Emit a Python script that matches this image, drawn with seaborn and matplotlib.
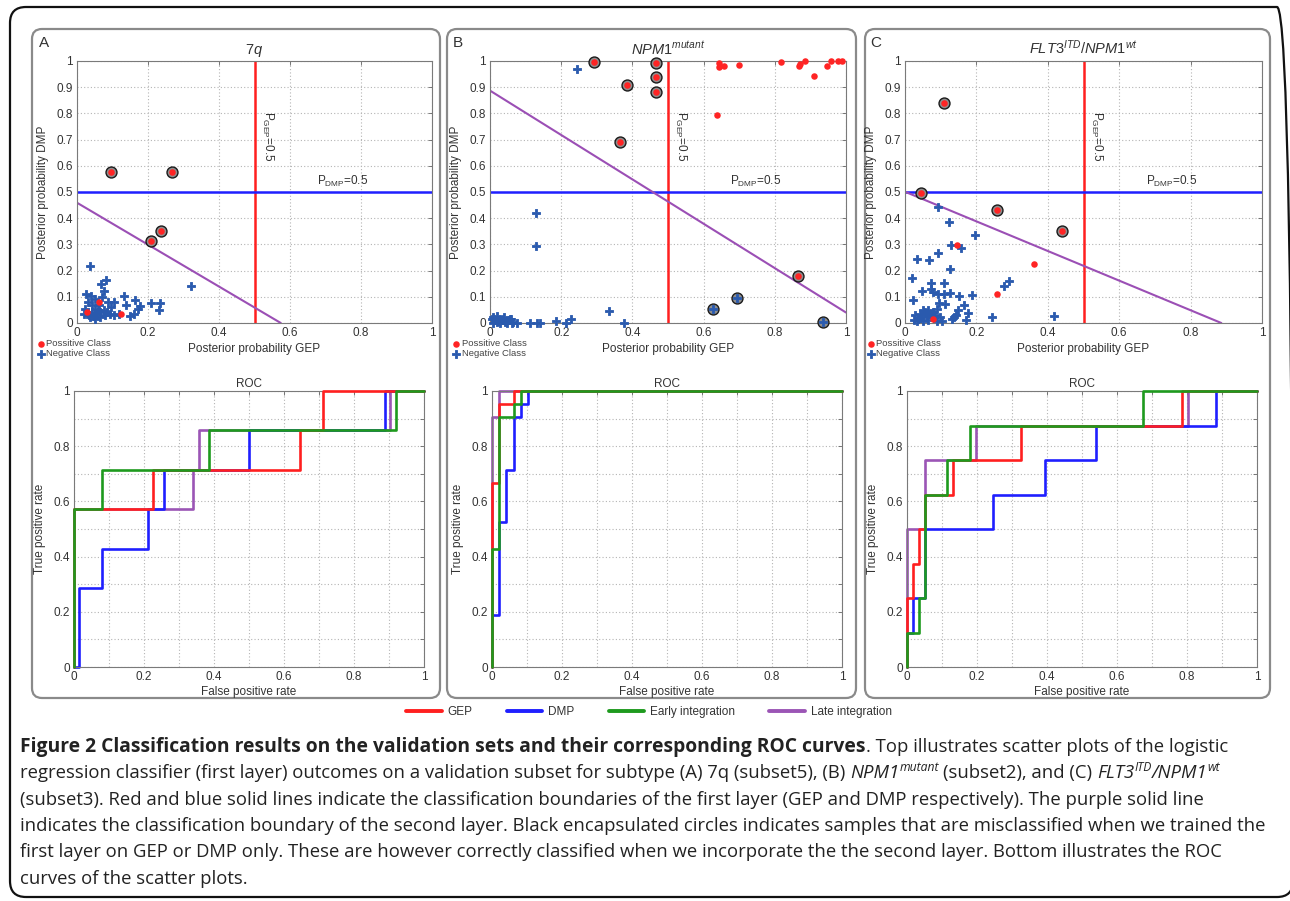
import numpy as np
import pandas as pd
import matplotlib
matplotlib.use("Agg")
import matplotlib.pyplot as plt
import seaborn as sns
from matplotlib.patches import FancyBboxPatch
from matplotlib.ticker import MultipleLocator, FuncFormatter

# ==================== data ====================
# panel A : 7q  (posterior probability GEP = x, DMP = y)
A_pos_x = [0.097, 0.269, 0.209, 0.237, 0.028, 0.063, 0.125]
A_pos_y = [0.577, 0.577, 0.313, 0.350, 0.042, 0.080, 0.036]
A_pos_ring = [0, 1, 2, 3]
A_neg_x = [0.037, 0.082, 0.068, 0.321, 0.026, 0.039, 0.075, 0.131, 0.105, 0.164,
           0.139, 0.209, 0.234, 0.232, 0.172, 0.160, 0.150, 0.178,
           0.019, 0.033, 0.047, 0.056, 0.066, 0.052, 0.042, 0.061, 0.075, 0.084, 0.094, 0.103,
           0.023, 0.030, 0.050, 0.070, 0.086, 0.096,
           0.036, 0.052, 0.066, 0.080, 0.042, 0.058, 0.117]
A_neg_y = [0.218, 0.163, 0.148, 0.140, 0.112, 0.102, 0.122, 0.103, 0.080, 0.089,
           0.068, 0.078, 0.078, 0.051, 0.055, 0.036, 0.025, 0.064,
           0.036, 0.029, 0.025, 0.036, 0.042, 0.055, 0.068, 0.068, 0.048, 0.042, 0.036, 0.029,
           0.055, 0.080, 0.093, 0.099, 0.080, 0.061,
           0.023, 0.017, 0.023, 0.029, 0.042, 0.051, 0.033]
A_neg_ring = []
A_bound_x = [0.0, 0.574]
A_bound_y = [0.459, 0.0]

# panel B : NPM1 mutant
B_pos_x = [0.292, 0.384, 0.467, 0.467, 0.465, 0.366, 0.865, 0.639, 0.644, 0.644, 0.657,
           0.700, 0.818, 0.869, 0.871, 0.885, 0.909, 0.947, 0.958, 0.978, 0.988]
B_pos_y = [0.995, 0.908, 0.991, 0.940, 0.883, 0.692, 0.178, 0.793, 0.993, 0.978, 0.982,
           0.985, 0.996, 0.981, 0.989, 1.000, 0.943, 0.982, 1.000, 1.000, 1.000]
B_pos_ring = [0, 1, 2, 3, 4, 5, 6]
B_neg_x = [0.626, 0.693, 0.935, 0.245, 0.128, 0.128, 0.333, 0.377, 0.227, 0.213,
           0.186, 0.111, 0.133, 0.141, 0.075,
           0.005, 0.009, 0.014, 0.019, 0.023, 0.028, 0.033, 0.037, 0.042, 0.047, 0.052, 0.056, 0.061, 0.066,
           0.009, 0.019, 0.039, 0.058]
B_neg_y = [0.052, 0.096, 0.004, 0.969, 0.420, 0.294, 0.046, 0.000, 0.017, 0.000,
           0.008, 0.000, 0.000, 0.000, 0.000,
           0.017, 0.023, 0.010, 0.004, 0.008, 0.000, 0.010, 0.017, 0.004, 0.000, 0.010, 0.017, 0.000, 0.004,
           0.000, 0.025, 0.023, 0.014]
B_neg_ring = [0, 1, 2]
B_bound_x = [0.0, 1.0]
B_bound_y = [0.887, 0.040]

# panel C : FLT3 ITD / NPM1 wt
C_pos_x = [0.108, 0.044, 0.257, 0.440, 0.145, 0.360, 0.257, 0.079]
C_pos_y = [0.841, 0.495, 0.431, 0.353, 0.298, 0.226, 0.112, 0.016]
C_pos_ring = [0, 1, 2, 3]
C_neg_x = [0.092, 0.122, 0.196, 0.129, 0.156, 0.093, 0.033, 0.067, 0.127, 0.021,
           0.072, 0.109, 0.049, 0.072, 0.078, 0.093, 0.109, 0.127, 0.150, 0.189,
           0.023, 0.095, 0.111, 0.166, 0.091, 0.148, 0.176, 0.142, 0.136, 0.131,
           0.170, 0.245, 0.418, 0.278, 0.290,
           0.026, 0.028, 0.037, 0.042, 0.047, 0.051, 0.056, 0.061, 0.065, 0.070, 0.075, 0.084, 0.089, 0.098, 0.105,
           0.051, 0.064, 0.033, 0.079]
C_neg_y = [0.442, 0.385, 0.336, 0.296, 0.287, 0.268, 0.245, 0.242, 0.207, 0.171,
           0.154, 0.154, 0.124, 0.128, 0.118, 0.112, 0.112, 0.114, 0.103, 0.108,
           0.089, 0.077, 0.074, 0.070, 0.055, 0.048, 0.038, 0.032, 0.023, 0.014,
           0.013, 0.023, 0.025, 0.140, 0.160,
           0.010, 0.029, 0.016, 0.036, 0.023, 0.008, 0.042, 0.029, 0.013, 0.036, 0.023, 0.029, 0.008, 0.023, 0.008,
           0.048, 0.051, 0.008, 0.042]
C_neg_ring = []
C_bound_x = [0.0, 0.886]
C_bound_y = [0.501, 0.0]

# ROC curves (false positive rate, true positive rate)
A_gep_fpr = [0, 0, 0.227, 0.227, 0.646, 0.646, 0.710, 0.710, 1]
A_gep_tpr = [0, 0.571, 0.571, 0.714, 0.714, 0.857, 0.857, 1, 1]
A_dmp_fpr = [0, 0.015, 0.015, 0.081, 0.081, 0.211, 0.211, 0.258, 0.258, 0.500, 0.500, 0.889, 0.889, 1]
A_dmp_tpr = [0, 0, 0.286, 0.286, 0.429, 0.429, 0.571, 0.571, 0.714, 0.714, 0.857, 0.857, 1, 1]
A_early_fpr = [0, 0, 0.081, 0.081, 0.387, 0.387, 0.920, 0.920, 1]
A_early_tpr = [0, 0.571, 0.571, 0.714, 0.714, 0.857, 0.857, 1, 1]
A_late_fpr = [0, 0, 0.339, 0.339, 0.356, 0.356, 0.903, 0.903, 1]
A_late_tpr = [0, 0.571, 0.571, 0.714, 0.714, 0.857, 0.857, 1, 1]

B_gep_fpr = [0, 0, 0.020, 0.020, 0.062, 0.062, 1]
B_gep_tpr = [0, 0.667, 0.667, 0.952, 0.952, 1, 1]
B_dmp_fpr = [0, 0, 0.020, 0.020, 0.041, 0.041, 0.062, 0.062, 0.082, 0.082, 0.103, 0.103, 1]
B_dmp_tpr = [0, 0.190, 0.190, 0.524, 0.524, 0.714, 0.714, 0.905, 0.905, 0.952, 0.952, 1, 1]
B_early_fpr = [0, 0, 0.020, 0.020, 0.062, 0.062, 0.082, 0.082, 1]
B_early_tpr = [0, 0.429, 0.429, 0.905, 0.905, 0.952, 0.952, 1, 1]
B_late_fpr = [0, 0, 0.020, 0.020, 1]
B_late_tpr = [0, 0.905, 0.905, 1, 1]

C_gep_fpr = [0, 0, 0.016, 0.016, 0.033, 0.033, 0.050, 0.050, 0.130, 0.130, 0.327, 0.327, 0.786, 0.786, 1]
C_gep_tpr = [0, 0.25, 0.25, 0.375, 0.375, 0.5, 0.5, 0.625, 0.625, 0.75, 0.75, 0.875, 0.875, 1, 1]
C_dmp_fpr = [0, 0, 0.017, 0.017, 0.050, 0.050, 0.245, 0.245, 0.393, 0.393, 0.541, 0.541, 0.884, 0.884, 1]
C_dmp_tpr = [0, 0.125, 0.125, 0.25, 0.25, 0.5, 0.5, 0.625, 0.625, 0.75, 0.75, 0.875, 0.875, 1, 1]
C_early_fpr = [0, 0, 0.033, 0.033, 0.050, 0.050, 0.114, 0.114, 0.181, 0.181, 0.674, 0.674, 1]
C_early_tpr = [0, 0.125, 0.125, 0.25, 0.25, 0.625, 0.625, 0.75, 0.75, 0.875, 0.875, 1, 1]
C_late_fpr = [0, 0, 0.050, 0.050, 0.197, 0.197, 0.803, 0.803, 1]
C_late_tpr = [0, 0.5, 0.5, 0.75, 0.75, 0.875, 0.875, 1, 1]

roc_names = ["GEP", "DMP", "Early integration", "Late integration"]
roc_colors = ["#ff1f1f", "#1f1fff", "#1e9a1e", "#9b55b5"]

# ==================== style ====================
sns.set_style("white")
plt.rcParams["font.family"] = ["Liberation Sans", "DejaVu Sans"]
plt.rcParams["mathtext.fontset"] = "custom"
plt.rcParams["mathtext.rm"] = "Liberation Sans"
plt.rcParams["mathtext.it"] = "Liberation Sans:italic"
plt.rcParams["mathtext.bf"] = "Liberation Sans:bold"

W, H = 1290, 901
fig = plt.figure(figsize=(W / 100, H / 100), dpi=100)
fig.patch.set_facecolor("white")

GRID = dict(color="#b4b4b4", linestyle=(0, (1, 2)), linewidth=0.8)
fmt = FuncFormatter(lambda v, p: f"{v:g}")


def px_axes(x0, y0, x1, y1):
    return fig.add_axes([x0 / W, 1 - y1 / H, (x1 - x0) / W, (y1 - y0) / H])


def style_axes(ax):
    ax.set_xlim(0, 1)
    ax.set_ylim(0, 1)
    ax.xaxis.set_major_formatter(fmt)
    ax.yaxis.set_major_formatter(fmt)
    ax.tick_params(which="both", direction="in", top=True, right=True, length=3,
                   width=0.6, color="#666666", labelsize=8.5, labelcolor="#333333", pad=3)
    for s in ax.spines.values():
        s.set_color("#7a7a7a")
        s.set_linewidth(0.8)


def draw_scatter(ax, pos_x, pos_y, pos_ring, neg_x, neg_y, neg_ring, bx, by, title, leg_x):
    style_axes(ax)
    ax.xaxis.set_major_locator(MultipleLocator(0.2))
    ax.yaxis.set_major_locator(MultipleLocator(0.1))
    ax.grid(True, which="major", **GRID)
    pos = pd.DataFrame({"x": pos_x, "y": pos_y})
    neg = pd.DataFrame({"x": neg_x, "y": neg_y})
    ring = pd.concat([pos.iloc[pos_ring], neg.iloc[neg_ring]])

    ax.axvline(0.5, color="#ff1f1f", lw=1.8, zorder=2)
    ax.axhline(0.5, color="#1f1fff", lw=1.8, zorder=2)
    sns.lineplot(x=bx, y=by, ax=ax, color="#9b4fb5", lw=1.5, zorder=2)

    sns.scatterplot(data=ring, x="x", y="y", ax=ax, s=62, color="#8e8e8e",
                    edgecolor="#1a1a1a", linewidth=1.0, zorder=3, clip_on=False)
    sns.scatterplot(data=neg, x="x", y="y", ax=ax, marker="P", s=38, color="#2a5aae",
                    edgecolor="#2a5aae", linewidth=0.6, zorder=4, label="Negative Class",
                    clip_on=False)
    sns.scatterplot(data=pos, x="x", y="y", ax=ax, marker="o", s=22, color="#ff2424",
                    linewidth=0, zorder=5, label="Possitive Class", clip_on=False)

    ax.text(0.515, 0.81, r"P$_{\mathregular{GEP}}$=0.5", rotation=-90, ha="left", va="top",
            fontsize=8.5, color="#333333")
    ax.text(0.675, 0.512, r"P$_{\mathregular{DMP}}$=0.5", ha="left", va="bottom",
            fontsize=8.5, color="#333333")

    ax.set_title(title, fontsize=10.5, pad=5, color="#333333")
    ax.set_xlabel("Posterior probability GEP", fontsize=8.5, labelpad=3, color="#333333")
    ax.set_ylabel("Posterior probability DMP", fontsize=8.5, labelpad=5, color="#333333")

    h, l = ax.get_legend_handles_labels()
    order = [l.index("Possitive Class"), l.index("Negative Class")]
    ax.legend([h[i] for i in order], [l[i] for i in order], loc="upper left",
              bbox_to_anchor=(leg_x / W, 1 - 339 / H), bbox_transform=fig.transFigure,
              frameon=False, fontsize=6.8, handlelength=0.6, handletextpad=0.3,
              labelspacing=0.15, borderpad=0, borderaxespad=0, markerscale=1.0,
              labelcolor="#444444")


def draw_roc(ax, curves):
    style_axes(ax)
    ax.xaxis.set_major_locator(MultipleLocator(0.2))
    ax.yaxis.set_major_locator(MultipleLocator(0.2))
    ax.xaxis.set_minor_locator(MultipleLocator(0.1))
    ax.yaxis.set_minor_locator(MultipleLocator(0.1))
    ax.grid(True, which="both", **GRID)
    zorders = [3, 2, 4, 1]
    for (fpr, tpr), name, col, z in zip(curves, roc_names, roc_colors, zorders):
        sns.lineplot(x=fpr, y=tpr, sort=False, estimator=None, ax=ax, color=col,
                     lw=1.9, zorder=z, label=name, clip_on=False)
    ax.get_legend().remove()
    ax.set_title("ROC", fontsize=8.5, pad=3, color="#333333")
    ax.set_xlabel("False positive rate", fontsize=8.5, labelpad=2, color="#333333")
    ax.set_ylabel("True positive rate", fontsize=8.5, labelpad=5, color="#333333")


# ==================== frames ====================
def rbox(x0, y0, x1, y1, ec, lw, r):
    p = FancyBboxPatch((x0 / 100, (H - y1) / 100), (x1 - x0) / 100, (y1 - y0) / 100,
                       boxstyle=f"round,pad=0,rounding_size={r}", transform=fig.dpi_scale_trans,
                       fill=False, ec=ec, lw=lw, zorder=0)
    fig.add_artist(p)


rbox(10, 7, 1293, 897, "#111111", 1.6, 0.16)
for bx0, bx1 in [(32, 440), (447, 856), (865, 1270)]:
    rbox(bx0, 29, bx1, 698, "#8a8a8a", 1.6, 0.1)

for lab, lx in [("A", 39), ("B", 453), ("C", 870)]:
    fig.text(lx / W, 1 - 43 / H, lab, fontsize=11, va="center", ha="left", color="#333333")

# ==================== panels ====================
titles = ["$\\mathit{7q}$",
          "$\\mathit{NPM1}^{\\mathit{mutant}}$",
          "$\\mathit{FLT3}^{\\mathit{ITD}}\\mathit{/NPM1}^{\\mathit{wt}}$"]

axA = px_axes(77, 61, 432, 323)
draw_scatter(axA, A_pos_x, A_pos_y, A_pos_ring, A_neg_x, A_neg_y, A_neg_ring,
             A_bound_x, A_bound_y, titles[0], 38)
axB = px_axes(490, 61, 846, 323)
draw_scatter(axB, B_pos_x, B_pos_y, B_pos_ring, B_neg_x, B_neg_y, B_neg_ring,
             B_bound_x, B_bound_y, titles[1], 453)
axC = px_axes(905, 61, 1262, 323)
draw_scatter(axC, C_pos_x, C_pos_y, C_pos_ring, C_neg_x, C_neg_y, C_neg_ring,
             C_bound_x, C_bound_y, titles[2], 868)

rA = px_axes(74, 391, 424, 667)
draw_roc(rA, [(A_gep_fpr, A_gep_tpr), (A_dmp_fpr, A_dmp_tpr),
              (A_early_fpr, A_early_tpr), (A_late_fpr, A_late_tpr)])
rB = px_axes(492, 391, 842, 667)
draw_roc(rB, [(B_gep_fpr, B_gep_tpr), (B_dmp_fpr, B_dmp_tpr),
              (B_early_fpr, B_early_tpr), (B_late_fpr, B_late_tpr)])
rC = px_axes(907, 391, 1257, 667)
draw_roc(rC, [(C_gep_fpr, C_gep_tpr), (C_dmp_fpr, C_dmp_tpr),
              (C_early_fpr, C_early_tpr), (C_late_fpr, C_late_tpr)])

h, l = rA.get_legend_handles_labels()
leg = fig.legend(h, l, loc="center", bbox_to_anchor=(649 / W, 1 - 712 / H), ncol=4,
                 frameon=False, fontsize=8.5, handlelength=3.0, handletextpad=0.5,
                 columnspacing=2.9, labelcolor="#333333")
for ln in leg.get_lines():
    ln.set_linewidth(2.8)

# ==================== caption ====================
renderer = fig.canvas.get_renderer()
CAP_FONT = ["Open Sans", "DejaVu Sans"]
REG = 13.3
styles = {
    "b": dict(fontsize=13.9, fontweight="bold"),
    "r": dict(fontsize=REG),
    "i": dict(fontsize=REG, style="italic"),
    "s": dict(fontsize=REG * 0.66, style="italic"),
}


def text_w(s, kw):
    t = fig.text(0, 0, s, family=CAP_FONT, **kw)
    w = t.get_window_extent(renderer).width
    t.remove()
    return w


space_w = text_w("a a", styles["r"]) - text_w("aa", styles["r"])

caption = [
    [("Figure 2 Classification results on the validation sets and their corresponding ROC curves", "b", False),
     (". Top illustrates scatter plots of the logistic", "r", False)],
    [("regression classifier (first layer) outcomes on a validation subset for subtype (A) 7q (subset5), (B)", "r", False),
     ("NPM1", "i", True), ("mutant", "s", False), ("(subset2), and (C)", "r", True),
     ("FLT3", "i", True), ("ITD", "s", False), ("/NPM1", "i", False), ("wt", "s", False)],
    [("(subset3). Red and blue solid lines indicate the classification boundaries of the first layer "
      "(GEP and DMP respectively). The purple solid line", "r", False)],
    [("indicates the classification boundary of the second layer. Black encapsulated circles indicates "
      "samples that are misclassified when we trained the", "r", False)],
    [("first layer on GEP or DMP only. These are however correctly classified when we incorporate the "
      "the second layer. Bottom illustrates the ROC", "r", False)],
    [("curves of the scatter plots.", "r", False)],
]

for i, line in enumerate(caption):
    x = 20.0
    base = 752 + 26.3 * i
    for txt, st, sp in line:
        if sp:
            x += space_w
        dy = 7 if st == "s" else 0
        t = fig.text(x / W, 1 - (base - dy) / H, txt, family=CAP_FONT, ha="left",
                     va="baseline", color="#222222", **styles[st])
        x = t.get_window_extent(renderer).x1

fig.savefig("out.png", dpi=100, facecolor="white")
